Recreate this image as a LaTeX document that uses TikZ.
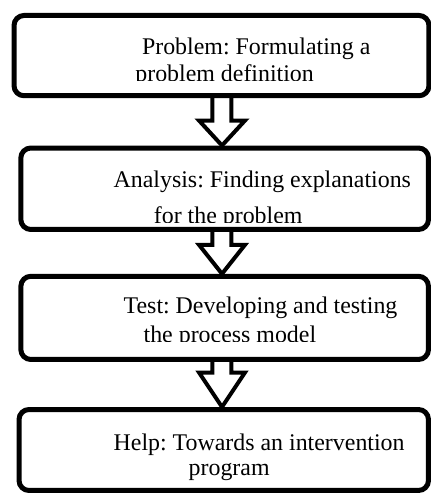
\documentclass[tikz,border=0pt]{standalone}
\usepackage{fontspec}
\setmainfont{Liberation Serif}
\usetikzlibrary{calc,positioning}
\frenchspacing

% block arrow from the bottom of one box to the top of the next: #3 = head length
\newcommand{\flowarrow}[3]{%
  \draw[arr] ($(axis |- #1.south)+(-9.5,0)$) -- ($(axis |- #2.north)+(-9.5,#3)$) -- ++(-13.5,0)
    -- (axis |- #2.north) -- ($(axis |- #2.north)+(23,#3)$) -- ++(-13.5,0)
    -- ($(axis |- #1.south)+(9.5,0)$);}

\begin{document}
\begin{tikzpicture}[x=0.02cm, y=0.02cm, stepbox/.style={draw,line width=0.1cm,rounded corners=0.2cm,inner sep=0pt},arr/.style={draw,line width=0.08cm},txt/.style={anchor=base west,inner sep=0pt,font=\fontsize{13.6}{15}\selectfont}]
            \useasboundingbox (0,0) rectangle (431,495);
            \coordinate (axis) at (222,0);

            \node[stepbox,minimum width=8.3cm,minimum height=1.606cm] (b1) at (221.5,439.4) {};
            \node[stepbox,minimum width=8.154cm,minimum height=1.63cm] (b2) at (224.65,306.25) {};
            \node[stepbox,minimum width=8.154cm,minimum height=1.664cm] (b3) at (224.65,177.1) {};
            \node[stepbox,minimum width=8.19cm,minimum height=1.62cm] (b4) at (223.75,45) {};

            \flowarrow{b1}{b2}{25}
            \flowarrow{b2}{b3}{29}
            \flowarrow{b3}{b4}{34.5}

            \node[txt] (t1a) at (141.7,441) {Problem: Formulating a};
            \begin{scope}
              \clip (0,415) rectangle (431,495);
              \node[txt] (t1b) at (135,414) {problem definition};
            \end{scope}
            \node[txt] (t2a) at (113.3,307.5) {Analysis: Finding explanations};
            \begin{scope}
              \clip (0,272.5) rectangle (431,495);
              \node[txt] (t2b) at (153.5,271.5) {for the problem};
            \end{scope}
            \node[txt] (t3a) at (123.3,181.5) {Test: Developing and testing};
            \begin{scope}
              \clip (0,153.5) rectangle (431,495);
              \node[txt] (t3b) at (143.3,153) {the process model};
            \end{scope}
            \node[txt] (t4a) at (113.3,45) {Help: Towards an intervention};
            \node[txt] (t4b) at (188.3,20) {program};
          \end{tikzpicture}
\end{document}
